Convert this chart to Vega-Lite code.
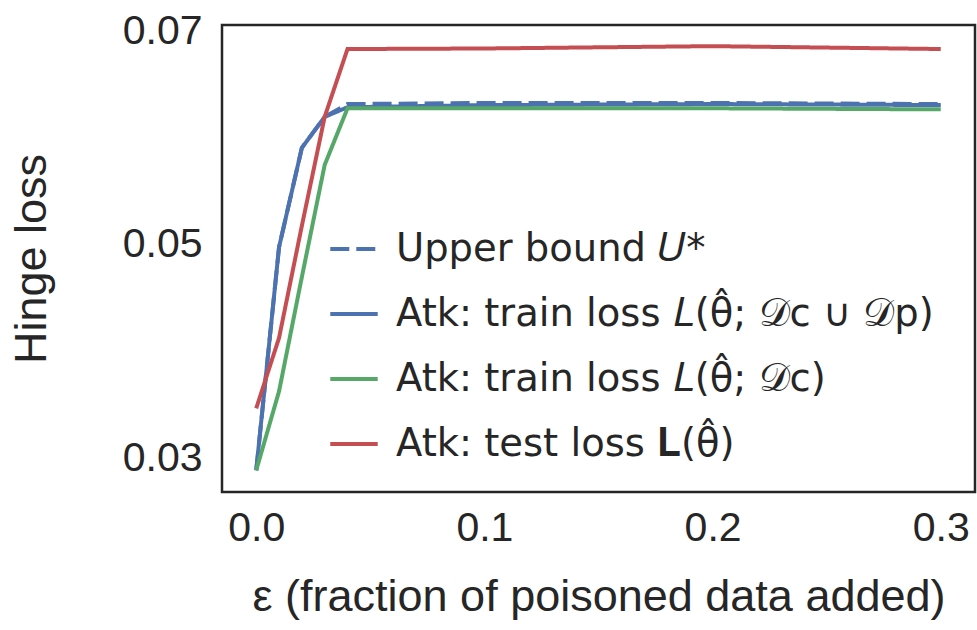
{
  "$schema": "https://vega.github.io/schema/vega-lite/v6.json",
  "width": 753,
  "height": 467,
  "autosize": {"type": "none"},
  "padding": {"left": 222, "top": 25, "right": 2, "bottom": 138},
  "background": "white",
  "config": {
    "font": "Liberation Sans",
    "view": {"stroke": "#262626", "strokeWidth": 2.5},
    "axis": {
      "domain": false, "ticks": false, "tickSize": 0, "grid": false,
      "labelFont": "Liberation Sans", "labelFontSize": 41, "labelColor": "#262626",
      "titleFont": "Liberation Sans", "titleFontSize": 45, "titleColor": "#262626", "titleFontWeight": "normal"
    },
    "legend": {
      "labelFont": "DejaVu Sans", "labelFontSize": 38.5, "labelColor": "#262626", "labelLimit": 900
    }
  },
  "data": {
    "values": [
      {"x": 0.0, "y": 0.0289, "s": "Upper bound 𝑈*"},
      {"x": 0.01, "y": 0.0498, "s": "Upper bound 𝑈*"},
      {"x": 0.02, "y": 0.0591, "s": "Upper bound 𝑈*"},
      {"x": 0.03, "y": 0.0620, "s": "Upper bound 𝑈*"},
      {"x": 0.04, "y": 0.0632, "s": "Upper bound 𝑈*"},
      {"x": 0.1, "y": 0.0633, "s": "Upper bound 𝑈*"},
      {"x": 0.2, "y": 0.0633, "s": "Upper bound 𝑈*"},
      {"x": 0.3, "y": 0.0632, "s": "Upper bound 𝑈*"},
      {"x": 0.0, "y": 0.0289, "s": "Atk: train loss 𝐿(θ̂; 𝒟c ∪ 𝒟p)"},
      {"x": 0.01, "y": 0.0498, "s": "Atk: train loss 𝐿(θ̂; 𝒟c ∪ 𝒟p)"},
      {"x": 0.02, "y": 0.0591, "s": "Atk: train loss 𝐿(θ̂; 𝒟c ∪ 𝒟p)"},
      {"x": 0.03, "y": 0.0620, "s": "Atk: train loss 𝐿(θ̂; 𝒟c ∪ 𝒟p)"},
      {"x": 0.04, "y": 0.0629, "s": "Atk: train loss 𝐿(θ̂; 𝒟c ∪ 𝒟p)"},
      {"x": 0.1, "y": 0.0631, "s": "Atk: train loss 𝐿(θ̂; 𝒟c ∪ 𝒟p)"},
      {"x": 0.2, "y": 0.0632, "s": "Atk: train loss 𝐿(θ̂; 𝒟c ∪ 𝒟p)"},
      {"x": 0.3, "y": 0.0631, "s": "Atk: train loss 𝐿(θ̂; 𝒟c ∪ 𝒟p)"},
      {"x": 0.0, "y": 0.0289, "s": "Atk: train loss 𝐿(θ̂; 𝒟c)"},
      {"x": 0.01, "y": 0.0363, "s": "Atk: train loss 𝐿(θ̂; 𝒟c)"},
      {"x": 0.02, "y": 0.0470, "s": "Atk: train loss 𝐿(θ̂; 𝒟c)"},
      {"x": 0.03, "y": 0.0575, "s": "Atk: train loss 𝐿(θ̂; 𝒟c)"},
      {"x": 0.04, "y": 0.0628, "s": "Atk: train loss 𝐿(θ̂; 𝒟c)"},
      {"x": 0.1, "y": 0.0628, "s": "Atk: train loss 𝐿(θ̂; 𝒟c)"},
      {"x": 0.2, "y": 0.0628, "s": "Atk: train loss 𝐿(θ̂; 𝒟c)"},
      {"x": 0.3, "y": 0.0627, "s": "Atk: train loss 𝐿(θ̂; 𝒟c)"},
      {"x": 0.0, "y": 0.0347, "s": "Atk: test loss 𝐋(θ̂)"},
      {"x": 0.01, "y": 0.0413, "s": "Atk: test loss 𝐋(θ̂)"},
      {"x": 0.02, "y": 0.0518, "s": "Atk: test loss 𝐋(θ̂)"},
      {"x": 0.03, "y": 0.0620, "s": "Atk: test loss 𝐋(θ̂)"},
      {"x": 0.04, "y": 0.06835, "s": "Atk: test loss 𝐋(θ̂)"},
      {"x": 0.1, "y": 0.0684, "s": "Atk: test loss 𝐋(θ̂)"},
      {"x": 0.2, "y": 0.06862, "s": "Atk: test loss 𝐋(θ̂)"},
      {"x": 0.3, "y": 0.06835, "s": "Atk: test loss 𝐋(θ̂)"}
    ]
  },
  "mark": {"type": "line", "strokeWidth": 4, "clip": true},
  "encoding": {
    "x": {
      "field": "x", "type": "quantitative",
      "scale": {"domain": [-0.015, 0.315], "nice": false, "zero": false},
      "axis": {"values": [0, 0.1, 0.2, 0.3], "format": ".1f", "labelPadding": 16, "title": "ε (fraction of poisoned data added)", "titlePadding": 26}
    },
    "y": {
      "field": "y", "type": "quantitative",
      "scale": {"domain": [0.02687, 0.0706], "nice": false, "zero": false},
      "axis": {"values": [0.03, 0.05, 0.07], "format": ".2f", "labelPadding": 20, "title": "Hinge loss", "titlePadding": 68}
    },
    "color": {
      "field": "s", "type": "nominal",
      "scale": {
        "domain": ["Upper bound 𝑈*", "Atk: train loss 𝐿(θ̂; 𝒟c ∪ 𝒟p)", "Atk: train loss 𝐿(θ̂; 𝒟c)", "Atk: test loss 𝐋(θ̂)"],
        "range": ["#4C72B0", "#4C72B0", "#55A868", "#C44E52"]
      },
      "legend": {
        "title": null, "orient": "none", "legendX": 106, "legendY": 198,
        "symbolType": "stroke", "symbolSize": 2250, "symbolStrokeWidth": 4,
        "labelOffset": 16, "rowPadding": 19, "padding": 0
      }
    },
    "strokeDash": {
      "field": "s", "type": "nominal",
      "scale": {
        "domain": ["Upper bound 𝑈*", "Atk: train loss 𝐿(θ̂; 𝒟c ∪ 𝒟p)", "Atk: train loss 𝐿(θ̂; 𝒟c)", "Atk: test loss 𝐋(θ̂)"],
        "range": [[19, 7], [1, 0], [1, 0], [1, 0]]
      },
      "legend": {
        "title": null, "orient": "none", "legendX": 106, "legendY": 198,
        "symbolType": "stroke", "symbolSize": 2250, "symbolStrokeWidth": 4,
        "labelOffset": 16, "rowPadding": 19, "padding": 0
      }
    }
  }
}
